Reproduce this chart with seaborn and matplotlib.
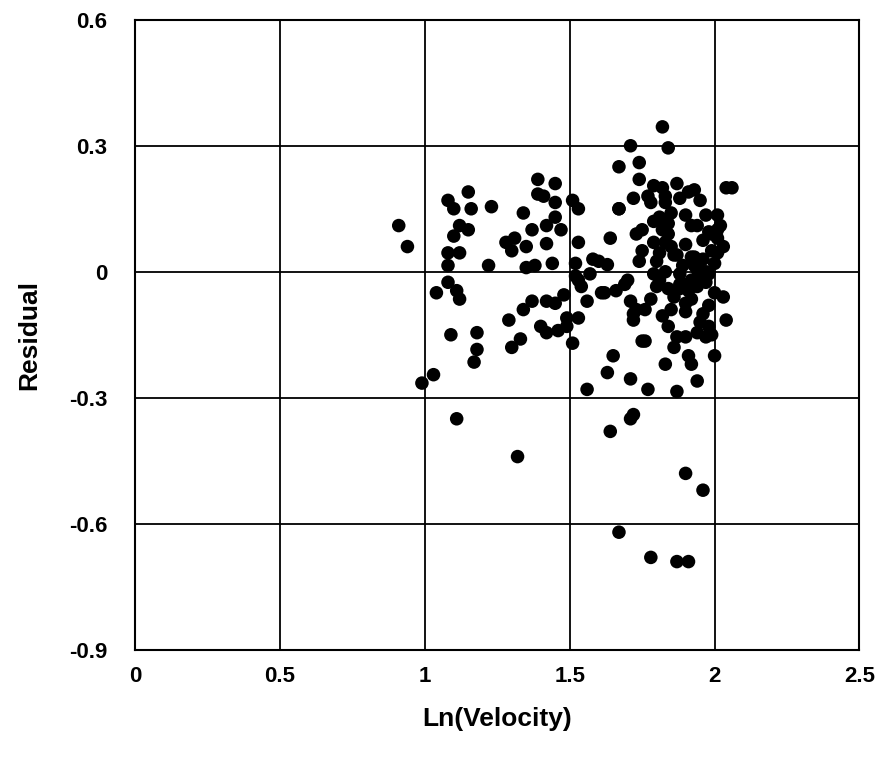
import matplotlib
matplotlib.use("Agg")
import matplotlib.pyplot as plt
import seaborn as sns
import pandas as pd

ln_velocity = [
    0.91, 0.94, 0.99, 1.03,
    1.08, 1.10, 1.15, 1.16, 1.12, 1.15, 1.10, 1.08, 1.12, 1.08,
    1.23, 1.22,
    1.08, 1.04, 1.11, 1.12,
    1.09, 1.18, 1.18, 1.17, 1.11, 1.32,
    1.34, 1.39, 1.45, 1.39, 1.41, 1.45, 1.51, 1.45, 1.42, 1.47, 1.37,
    1.28, 1.31, 1.30, 1.35, 1.42, 1.35, 1.38, 1.44, 1.52,
    1.37, 1.34, 1.42, 1.45, 1.48, 1.29,
    1.33, 1.30, 1.40, 1.42, 1.46, 1.49, 1.51, 1.49, 1.53, 1.56, 1.61,
    1.53, 1.67, 1.53, 1.64, 1.58, 1.60, 1.63, 1.57, 1.53, 1.54, 1.62, 1.66, 1.69,
    1.71, 1.72, 1.75, 1.65, 1.63, 1.71, 1.56, 1.77,
    1.64, 1.72, 1.71, 1.67, 1.78, 1.87, 1.91, 1.90, 1.96,
    1.82, 1.84, 1.71, 1.67, 1.74, 1.74, 1.79, 1.82, 1.87, 1.93, 2.04, 2.06,
    1.77, 1.83, 1.72, 1.78, 1.83, 1.88, 1.91, 1.95, 1.67, 1.90, 1.97, 2.01,
    1.82, 1.84, 1.92, 1.75, 1.73, 1.82, 1.84, 1.98, 2.01,
    1.79, 1.83, 1.90, 1.96, 1.75, 1.81, 1.87, 2.01, 1.74, 1.80, 1.96,
    1.83, 1.88, 1.94, 1.98, 1.79, 1.70,
    1.52, 1.80, 1.84, 1.88, 1.92, 1.96, 1.91,
    1.73, 1.76, 1.72, 1.90, 1.90, 1.92, 1.82, 1.84, 1.96, 2.04, 1.98,
    1.87, 1.90, 1.94, 1.97, 1.86, 1.76, 2.00, 1.83, 1.92, 1.94, 1.87,
    1.94, 2.01, 1.85, 1.86, 1.79, 1.81, 2.03, 2.00, 1.89, 1.99, 1.93,
    1.95, 1.99, 2.02, 1.97, 1.85, 1.89, 1.93, 2.00, 1.86, 1.81, 1.98,
    1.94, 1.97, 1.88, 1.92, 2.03, 1.85, 1.91, 1.78, 1.99, 1.95,
]

residual = [
    0.11, 0.06, -0.265, -0.245,
    0.17, 0.15, 0.19, 0.15, 0.11, 0.10, 0.085, 0.045, 0.045, 0.015,
    0.155, 0.015,
    -0.025, -0.05, -0.045, -0.065,
    -0.15, -0.145, -0.185, -0.215, -0.35, -0.44,
    0.14, 0.22, 0.21, 0.185, 0.18, 0.165, 0.17, 0.13, 0.11, 0.10, 0.10,
    0.07, 0.08, 0.05, 0.06, 0.067, 0.01, 0.015, 0.02, 0.02,
    -0.07, -0.09, -0.07, -0.075, -0.055, -0.115,
    -0.16, -0.18, -0.13, -0.145, -0.14, -0.13, -0.17, -0.11, -0.11, -0.07, -0.05,
    0.15, 0.15, 0.07, 0.08, 0.03, 0.025, 0.017, -0.005, -0.02, -0.035, -0.05, -0.045, -0.03,
    -0.07, -0.10, -0.165, -0.20, -0.24, -0.255, -0.28, -0.28,
    -0.38, -0.34, -0.35, -0.62, -0.68, -0.69, -0.69, -0.48, -0.52,
    0.345, 0.295, 0.30, 0.25, 0.26, 0.22, 0.205, 0.20, 0.21, 0.195, 0.20, 0.20,
    0.18, 0.18, 0.175, 0.165, 0.165, 0.175, 0.19, 0.17, 0.15, 0.135, 0.135, 0.135,
    0.125, 0.115, 0.11, 0.10, 0.09, 0.10, 0.09, 0.095, 0.08,
    0.07, 0.07, 0.065, 0.075, 0.05, 0.045, 0.04, 0.045, 0.025, 0.025, 0.03,
    0.0, -0.005, 0.005, -0.005, -0.005, -0.02,
    -0.01, -0.035, -0.04, -0.03, -0.02, 0.0, -0.045,
    -0.09, -0.09, -0.115, -0.075, -0.095, -0.065, -0.105, -0.13, -0.10, -0.115, -0.13,
    -0.155, -0.155, -0.145, -0.155, -0.18, -0.165, -0.20, -0.22, -0.22, -0.26, -0.285,
    0.11, 0.10, 0.06, 0.04, 0.12, 0.13, 0.06, 0.02, 0.015, 0.05, 0.035,
    -0.01, 0.09, 0.11, 0.0, 0.14, -0.03, 0.015, -0.05, -0.06, -0.02, -0.08,
    -0.035, -0.025, -0.04, 0.035, -0.06, -0.09, -0.20, -0.065, -0.15, -0.12,
]

df = pd.DataFrame({"x": ln_velocity, "y": residual})

x_ticks = [0, 0.5, 1, 1.5, 2, 2.5]
x_labels = ["0", "0.5", "1", "1.5", "2", "2.5"]
y_ticks = [0.6, 0.3, 0, -0.3, -0.6, -0.9]
y_labels = ["0.6", "0.3", "0", "-0.3", "-0.6", "-0.9"]

sns.set_style("white")
plt.rcParams["font.family"] = ["Liberation Sans", "DejaVu Sans"]
plt.rcParams["text.color"] = "black"
plt.rcParams["axes.labelcolor"] = "black"
plt.rcParams["xtick.color"] = "black"
plt.rcParams["ytick.color"] = "black"

fig = plt.figure(figsize=(8.77, 7.6), dpi=100)
ax = fig.add_axes([0.154, 0.145, 0.826, 0.829])

sns.scatterplot(data=df, x="x", y="y", ax=ax, color="black", s=95,
                edgecolor="none", linewidth=0, zorder=3)

ax.set_xlim(0, 2.5)
ax.set_ylim(-0.9, 0.6)
ax.set_xticks(x_ticks)
ax.set_xticklabels(x_labels)
ax.set_yticks(y_ticks)
ax.set_yticklabels(y_labels)
ax.grid(True, color="black", linewidth=1.3)
ax.set_axisbelow(True)
for s in ax.spines.values():
    s.set_color("black")
    s.set_linewidth(1.5)
ax.tick_params(axis="both", length=0, labelsize=16, colors="black")
ax.tick_params(axis="x", pad=12)
ax.tick_params(axis="y", pad=20)
for lbl in ax.get_xticklabels() + ax.get_yticklabels():
    lbl.set_fontweight("bold")

ax.set_xlabel("Ln(Velocity)", fontsize=19, fontweight="bold", labelpad=14, color="black")
ax.set_ylabel("Residual", fontsize=19, fontweight="bold", labelpad=20, color="black")

fig.savefig("out.png", dpi=100)
